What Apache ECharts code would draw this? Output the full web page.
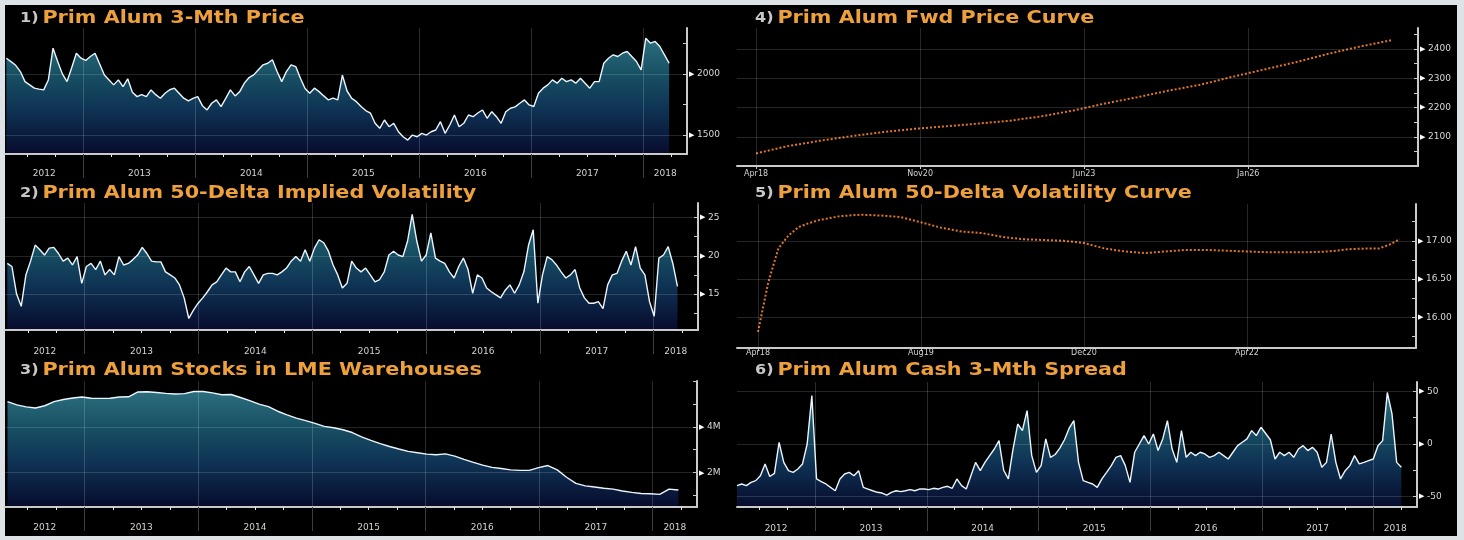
<!DOCTYPE html>
<html><head><meta charset="utf-8">
<script src="https://cdn.jsdelivr.net/npm/echarts@6/dist/echarts.min.js"></script>
<style>
html,body{margin:0;padding:0;background:#dde2e7;overflow:hidden;}
#bg{position:absolute;left:5px;top:5px;width:1452px;height:531px;background:#000;}
#chart{position:absolute;left:0;top:0;width:1464px;height:540px;}
</style></head>
<body><div id="bg"></div><div id="chart"></div>
<script>
// ---------------- DATA ----------------
const yearLabels = ['2012','2013','2014','2015','2016','2017','2018'];
const yearBounds = [2013,2014,2015,2016,2017,2018];
const xMin = 2012.30, xMax = 2018.39;

// 1) Prim Alum 3-Mth Price (USD/t), half-monthly readings
const priceStart = 2012.312, priceStep = 0.04168;
const priceValues = [2128,2100,2070,2019,1937,1910,1883,1875,1869,1950,
2210,2101,2000,1937,2050,2169,2128,2110,2142,2169,
2080,1990,1950,1910,1951,1896,1960,1850,1814,1830,
1814,1869,1830,1801,1842,1870,1883,1842,1801,1780,
1800,1814,1740,1705,1760,1787,1733,1800,1869,1820,
1855,1924,1970,1992,2033,2074,2087,2115,2019,1937,
2019,2074,2060,1964,1880,1842,1883,1855,1820,1787,
1801,1787,1990,1860,1800,1773,1733,1700,1680,1596,
1555,1623,1568,1596,1527,1486,1459,1500,1486,1514,
1500,1527,1541,1609,1514,1582,1664,1568,1596,1664,
1650,1680,1705,1637,1691,1650,1596,1690,1719,1730,
1760,1787,1746,1733,1842,1883,1910,1951,1924,1964,
1937,1951,1924,1964,1924,1883,1937,1937,2087,2128,
2156,2142,2169,2183,2142,2101,2033,2292,2251,2265,
2224,2156,2087];
const priceTickValues = [1500,2000];
const priceTickLabels = ['1500','2000'];

// 2) Prim Alum 50-Delta Implied Volatility (%)
const ivolStart = 2012.32, ivolStep = 0.0409;
const ivolValues = [19.0,18.6,15.0,13.4,17.5,19.3,21.4,20.8,20.1,21.0,
21.1,20.3,19.3,19.7,18.8,19.9,16.4,18.6,19.0,18.2,
19.3,17.5,18.2,17.5,19.9,18.8,19.0,19.5,20.1,21.1,
20.3,19.3,19.2,19.2,17.9,17.5,17.1,16.2,14.5,11.8,
12.9,13.8,14.5,15.3,16.2,16.6,17.5,18.4,17.9,17.9,
16.6,17.9,18.6,17.5,16.4,17.5,17.7,17.7,17.5,17.9,
18.4,19.3,19.9,19.3,20.8,19.3,21.0,22.1,21.7,20.6,
18.8,17.5,15.8,16.4,19.3,18.4,17.9,18.4,17.5,16.6,
16.9,17.9,20.1,20.6,20.1,19.9,21.9,25.4,21.9,19.3,
20.1,23.0,19.7,19.3,19.0,17.9,17.1,18.6,19.7,18.2,
15.1,17.5,17.1,15.8,15.3,14.9,14.5,15.5,16.2,15.1,
16.2,17.9,21.4,23.4,13.8,17.5,19.9,19.5,18.8,17.9,
17.1,17.5,18.2,15.8,14.5,13.8,13.8,14.0,13.1,16.2,
17.5,17.7,19.3,20.6,18.8,21.2,18.4,17.5,14.0,12.1,
19.7,20.1,21.2,19.0,16.0];
const ivolTickValues = [15,20,25];
const ivolTickLabels = ['15','20','25'];

// 3) Prim Alum Stocks in LME Warehouses (million t)
const stockStart = 2012.322, stockStep = 0.0820;
const stockValues = [5.10,4.96,4.87,4.82,4.92,5.10,5.19,5.26,5.30,5.25,
5.24,5.25,5.30,5.31,5.52,5.53,5.50,5.46,5.43,5.45,
5.54,5.54,5.48,5.40,5.41,5.28,5.14,4.99,4.88,4.68,
4.52,4.38,4.27,4.15,4.02,3.96,3.87,3.75,3.56,3.41,
3.27,3.14,3.03,2.93,2.87,2.81,2.78,2.82,2.72,2.58,
2.45,2.33,2.23,2.18,2.12,2.10,2.10,2.22,2.31,2.12,
1.80,1.53,1.42,1.37,1.32,1.28,1.20,1.14,1.09,1.08,
1.05,1.28,1.24];
const stockTickValues = [2,4];
const stockTickLabels = ['2M','4M'];

// 4) Prim Alum Fwd Price Curve (months after Apr18)
const fwdMonths = [0,6,12,18,24,30,36,42,48,54,60,66,72,78,84,90,96,102,108,114,120];
const fwdPrices = [2043,2068,2086,2102,2116,2127,2136,2145,2155,2170,2190,2214,2235,2258,2278,2305,2330,2355,2383,2408,2430];
const fwdAxisMonths = [0,31,62,93];
const fwdAxisLabels = ['Apr18','Nov20','Jun23','Jan26'];
const fwdTickValues = [2100,2200,2300,2400];
const fwdTickLabels = ['2100','2200','2300','2400'];

// 5) Prim Alum 50-Delta Volatility Curve (months after Apr18)
const vcMonths = [0,1,2,3,4,5,6,8,10,12,14,16,18,20,22,24,26,28,30,32,34,36,38,40,42,44,46,48,50,52,54,56,58,60,61,62,63];
const vcValues = [15.81,16.45,16.90,17.07,17.18,17.23,17.27,17.32,17.34,17.33,17.31,17.24,17.17,17.12,17.10,17.05,17.02,17.01,17.00,16.97,16.90,16.86,16.84,16.86,16.88,16.88,16.87,16.86,16.85,16.85,16.85,16.86,16.89,16.90,16.90,16.95,17.02];
const vcAxisMonths = [0,16,32,48];
const vcAxisLabels = ['Apr18','Aug19','Dec20','Apr22'];
const vcTickValues = [16,16.5,17];
const vcTickLabels = ['16.00','16.50','17.00'];

// 6) Prim Alum Cash 3-Mth Spread (USD/t)
const sprStart = 2012.30, sprStep = 0.0419;
const sprValues = [-39.7,-38.1,-39.7,-36.5,-34.9,-30.2,-19.0,-31.0,-28.0,1.6,
-17.5,-25.4,-27.0,-23.8,-19.0,0.0,46.0,-33.3,-35.9,-38.1,
-41.3,-44.5,-33.3,-28.6,-27.0,-30.2,-25.4,-41.3,-42.9,-44.5,
-46.0,-46.7,-48.6,-46.0,-44.5,-45.4,-44.5,-43.5,-44.5,-42.9,
-42.9,-43.5,-42.2,-42.9,-41.3,-40.3,-42.2,-33.3,-39.7,-42.9,
-30.2,-17.5,-25.4,-17.5,-11.1,-4.8,3.2,-25.0,-33.3,-5.0,
19.0,12.7,31.8,-11.1,-27.0,-20.6,4.8,-12.7,-10.0,-4.0,
4.0,15.0,22.2,-17.5,-34.9,-36.5,-38.1,-41.3,-33.3,-27.0,
-20.6,-12.7,-11.1,-20.6,-36.5,-7.9,0.0,7.9,0.0,9.5,
-6.3,4.8,22.2,-4.8,-17.5,12.7,-12.7,-7.9,-11.1,-7.9,
-9.5,-12.7,-11.1,-7.9,-11.1,-14.3,-7.9,-1.6,1.6,4.8,
12.7,8.0,15.9,10.0,4.0,-14.3,-7.9,-11.1,-7.9,-12.7,
-4.8,-1.6,-6.3,-3.2,-7.9,-22.2,-17.5,9.5,-17.5,-33.3,
-25.4,-20.6,-11.1,-19.0,-17.5,-15.9,-14.3,-1.6,3.2,49.0,
28.6,-17.5,-22.2];
const sprTickValues = [-50,0,50];
const sprTickLabels = ['-50','0','50'];

const panelTitles = ['Prim Alum 3-Mth Price','Prim Alum 50-Delta Implied Volatility','Prim Alum Stocks in LME Warehouses',
  'Prim Alum Fwd Price Curve','Prim Alum 50-Delta Volatility Curve','Prim Alum Cash 3-Mth Spread'];

// ---------------- BUILD ----------------
const FONT = 'DejaVu Sans';
const grids = [], xAxes = [], yAxes = [], series = [], graphics = [];
const nearestIdx = (arr, v) => { let b = 0; arr.forEach((a, i) => { if (Math.abs(a - v) < Math.abs(arr[b] - v)) b = i; }); return b; };

const yb = [xMin].concat(yearBounds).concat([xMax]);
const yearMids = yearLabels.map((_, i) => (yb[i] + yb[i + 1]) / 2);
const quarterTicks = [];
for (let y = 2012; y <= 2018; y++) [0.25, 0.5, 0.75].forEach(q => { if (y + q > xMin && y + q < xMax) quarterTicks.push(y + q); });

const areaGrad = {type:'linear', x:0, y:0, x2:0, y2:1, colorStops:[
  {offset:0, color:'#3f9db4'}, {offset:0.3, color:'#22748f'}, {offset:0.62, color:'#154878'}, {offset:1, color:'#0a1040'}]};

function addTitle(n, x, y, text) {
  graphics.push({type:'text', x:x, y:y, scaleX:1.15, silent:true, z:10,
    style:{text:'{n|' + n + ')} {t|' + text + '}', verticalAlign:'top',
      rich:{
        n:{fill:'#c8c8c8', fontSize:14, fontWeight:'bold', fontFamily:FONT},
        t:{fill:'#eea03c', fontSize:18, fontWeight:'bold', fontFamily:FONT}}}});
}

function addYAxes(gi, min, max, ticks, labelVals, labelTexts) {
  const base = yAxes.length;
  yAxes.push({gridIndex:gi, type:'value', position:'right', min, max, z:4,
    axisLine:{show:true, onZero:false, lineStyle:{color:'#cacaca', width:2}},
    axisTick:{show:true, inside:true, length:4, customValues:ticks, lineStyle:{color:'#cacaca', width:1}},
    axisLabel:{show:true, customValues:labelVals, margin:2,
      formatter: v => '{m|\u25B6}{t|' + labelTexts[nearestIdx(labelVals, v)] + '}',
      rich:{m:{color:'#ffffff', fontSize:7, padding:[0,3,0,0]}, t:{color:'#d8d8d8', fontSize:9, fontFamily:FONT}}},
    splitLine:{show:false}});
  yAxes.push({gridIndex:gi, type:'value', position:'right', min, max, z:3,
    axisLine:{show:false, onZero:false}, axisTick:{show:false, customValues:labelVals},
    axisLabel:{show:false}, splitLine:{show:true, lineStyle:{color:'rgba(255,255,255,0.14)', width:1}}});
  return base;
}

function timePanel(n, titlePos, grid, yMin, yMax, yTicks, lblVals, lblTexts, start, step, values, margin) {
  const gi = grids.length;
  grids.push(Object.assign({containLabel:false}, grid));
  addTitle(n, titlePos[0], titlePos[1], panelTitles[n - 1]);
  const xi = xAxes.length;
  xAxes.push({gridIndex:gi, type:'value', min:xMin, max:xMax, position:'bottom', z:3,
    axisLine:{show:true, onZero:false, lineStyle:{color:'#c9c9c9', width:2}},
    axisTick:{show:true, customValues:yearBounds, length:24, lineStyle:{color:'#3c3c3c', width:1}},
    axisLabel:{show:false},
    splitLine:{show:true, lineStyle:{color:'rgba(255,255,255,0.17)', width:1}}});
  xAxes.push({gridIndex:gi, type:'value', min:xMin, max:xMax, position:'bottom', z:4,
    axisLine:{show:false, onZero:false},
    axisTick:{show:true, customValues:quarterTicks, length:3, lineStyle:{color:'#e6e6e6', width:1}},
    axisLabel:{show:false}, splitLine:{show:false}});
  xAxes.push({gridIndex:gi, type:'value', min:xMin, max:xMax, position:'bottom',
    axisLine:{show:false, onZero:false}, axisTick:{show:false}, splitLine:{show:false},
    axisLabel:{show:true, customValues:yearMids, margin, color:'#d2d2d2', fontSize:9, fontFamily:FONT,
      formatter: v => yearLabels[nearestIdx(yearMids, v)]}});
  const yi = addYAxes(gi, yMin, yMax, yTicks, lblVals, lblTexts);
  series.push({type:'line', xAxisIndex:xi, yAxisIndex:yi, symbol:'none', silent:true, z:2,
    data: values.map((v, i) => [start + i * step, v]),
    lineStyle:{color:'#eaf6ff', width:1.4},
    areaStyle:{origin:'start', color:areaGrad}});
}

function curvePanel(n, titlePos, grid, xmin, xmax, axVals, axLabels, margin, yMin, yMax, yTicks, lblVals, lblTexts, xs, ys) {
  const gi = grids.length;
  grids.push(Object.assign({containLabel:false}, grid));
  addTitle(n, titlePos[0], titlePos[1], panelTitles[n - 1]);
  const xi = xAxes.length;
  xAxes.push({gridIndex:gi, type:'value', min:xmin, max:xmax, position:'bottom', z:3,
    axisLine:{show:true, onZero:false, lineStyle:{color:'#c9c9c9', width:2}},
    axisTick:{show:true, customValues:axVals, length:3, lineStyle:{color:'#c9c9c9'}},
    splitLine:{show:true, lineStyle:{color:'rgba(255,255,255,0.15)', width:1}},
    axisLabel:{show:true, customValues:axVals, margin, color:'#d2d2d2', fontSize:8, fontFamily:FONT,
      formatter: v => axLabels[nearestIdx(axVals, v)]}});
  const yi = addYAxes(gi, yMin, yMax, yTicks, lblVals, lblTexts);
  series.push({type:'line', xAxisIndex:xi, yAxisIndex:yi, symbol:'none', silent:true, z:2,
    data: xs.map((m, i) => [m, ys[i]]),
    lineStyle:{color:'#e07628', width:2, type:'dotted'}});
}

timePanel(1, [20, 9], {left:5, top:28, width:682, height:126}, 1345, 2375,
  [1500,1750,2000,2250], priceTickValues, priceTickLabels, priceStart, priceStep, priceValues, 15);
timePanel(2, [20, 184], {left:5, top:203, width:693, height:127}, 10.3, 26.9,
  [12.5,15,17.5,20,22.5,25], ivolTickValues, ivolTickLabels, ivolStart, ivolStep, ivolValues, 17);
timePanel(3, [20, 361], {left:5, top:381, width:692, height:126}, 0.5, 6.0,
  [1,2,3,4,5,6], stockTickValues, stockTickLabels, stockStart, stockStep, stockValues, 16);
curvePanel(4, [755, 9], {left:737, top:28, width:681, height:138}, -3.6, 125.1,
  fwdAxisMonths, fwdAxisLabels, 4, 2000, 2472,
  [2000,2050,2100,2150,2200,2250,2300,2350,2400,2450], fwdTickValues, fwdTickLabels, fwdMonths, fwdPrices);
curvePanel(5, [755, 184], {left:737, top:204, width:679, height:144}, -2.06, 64.6,
  vcAxisMonths, vcAxisLabels, 1, 15.60, 17.48,
  [15.75,16,16.25,16.5,16.75,17,17.25], vcTickValues, vcTickLabels, vcMonths, vcValues);
timePanel(6, [755, 361], {left:737, top:382, width:680, height:125}, -60, 59,
  [-50,-25,0,25,50], sprTickValues, sprTickLabels, sprStart, sprStep, sprValues, 17);

const chart = echarts.init(document.getElementById('chart'), null, {renderer:'canvas'});
chart.setOption({
  backgroundColor:'transparent', animation:false,
  grid:grids, xAxis:xAxes, yAxis:yAxes, series:series, graphic:graphics
});
</script></body></html>
